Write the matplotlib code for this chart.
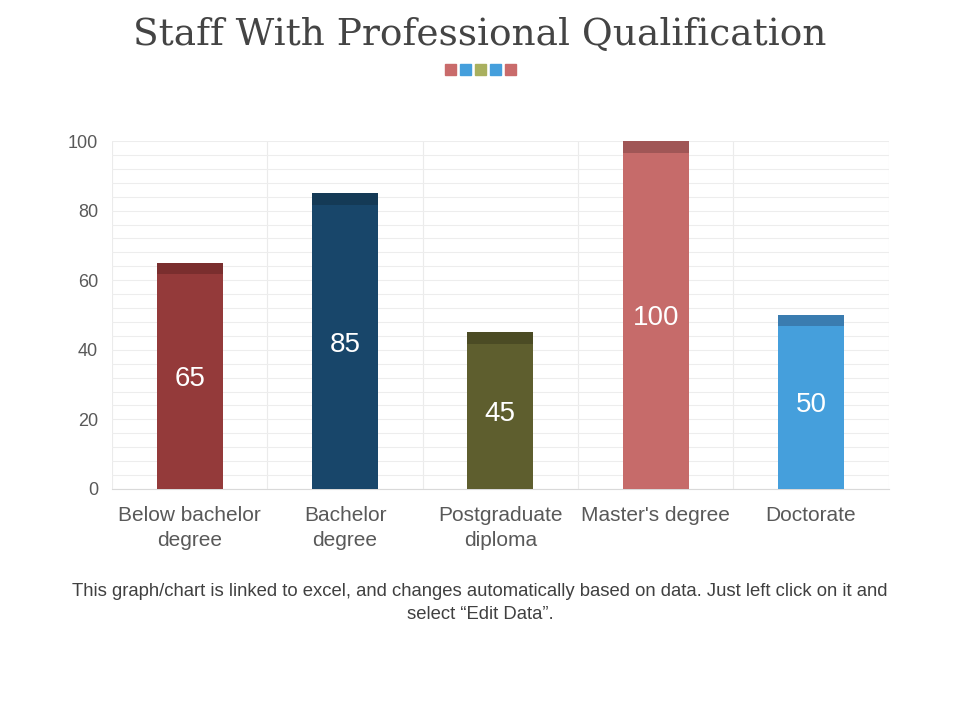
import matplotlib.pyplot as plt
import numpy as np
from matplotlib.ticker import MultipleLocator

# data
categories = ["Below bachelor\ndegree", "Bachelor\ndegree", "Postgraduate\ndiploma",
              "Master's degree", "Doctorate"]
values = [65, 85, 45, 100, 50]
bar_colors = ["#943a3a", "#18466a", "#5e5e2e", "#c66b6a", "#459fdc"]
cap_colors = ["#7a2e2e", "#143a56", "#4b4b24", "#a05656", "#3a7cb0"]
square_colors = ["#c96b6b", "#459fdc", "#a9b05f", "#459fdc", "#c96b6b"]

fig = plt.figure(figsize=(9.6, 7.2), dpi=100)
ax = fig.add_axes([0.1167, 0.321, 0.809, 0.483])

x = np.arange(len(values))
w = 0.425
cap = 3.3
ax.bar(x, values, width=w, color=bar_colors, zorder=3)
# darker strip on top of each bar
ax.bar(x, [cap] * len(values), bottom=[v - cap for v in values], width=w,
       color=cap_colors, zorder=4)
for xi, v in zip(x, values):
    ax.text(xi, v / 2 - 1, str(v), ha="center", va="center", color="white",
            fontsize=20, family="Liberation Sans", zorder=5)

ax.set_xlim(-0.5, len(values) - 0.5)
ax.set_ylim(0, 100)
ax.yaxis.set_major_locator(MultipleLocator(20))
ax.yaxis.set_minor_locator(MultipleLocator(4))
ax.grid(axis="y", which="both", color="#ededed", lw=0.8, zorder=0)
for b in np.arange(-0.5, len(values), 1.0):
    ax.axvline(b, color="#ebebeb", lw=0.8, zorder=0)
for s in ["top", "right", "left"]:
    ax.spines[s].set_visible(False)
ax.spines["bottom"].set_color("#d9d9d9")
ax.set_xticks(x)
ax.set_xticklabels(categories, fontsize=15, family="Liberation Sans",
                   color="#595959", linespacing=1.45)
ax.tick_params(axis="both", which="both", length=0)
ax.tick_params(axis="x", pad=12)
ax.tick_params(axis="y", pad=10)
for t in ax.get_yticklabels():
    t.set_fontsize(13)
    t.set_family("Liberation Sans")
    t.set_color("#595959")

fig.text(0.5, 0.952, "Staff With Professional Qualification", ha="center", va="center",
         fontsize=27, family="DejaVu Serif", color="#444444")
for i, c in enumerate(square_colors):
    fig.patches.append(plt.Rectangle(((445 + i * 15) / 960, 1 - 75 / 720), 11 / 960, 11 / 720,
                                     transform=fig.transFigure, color=c))

fig.text(0.5, 0.163, "This graph/chart is linked to excel, and changes automatically based on data. Just left click on it and\nselect \u201cEdit Data\u201d.",
         ha="center", va="center", fontsize=13.3, family="Liberation Sans", color="#404040",
         linespacing=1.45)

fig.savefig("out.png", dpi=100)
